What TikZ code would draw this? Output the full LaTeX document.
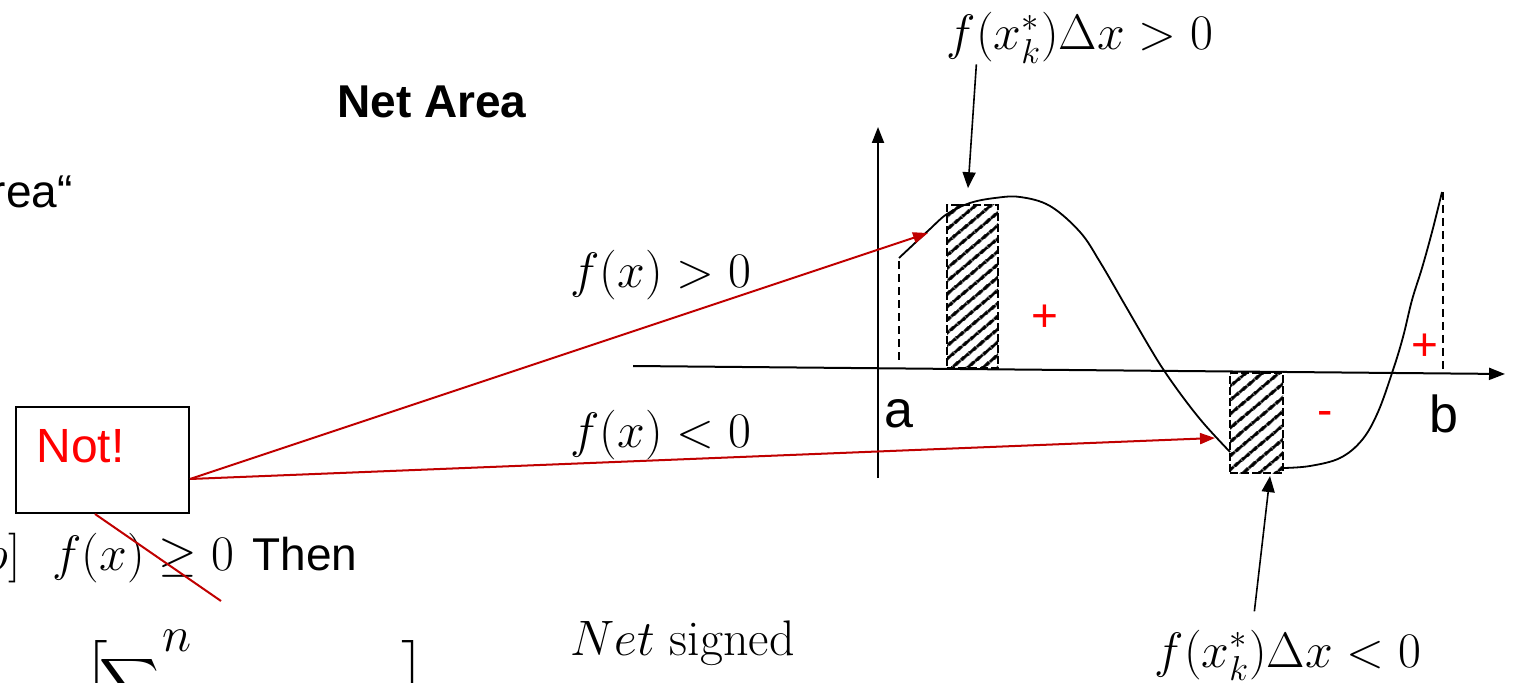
\documentclass[tikz,border=0pt]{standalone}
\usepackage{fontspec}
\usepackage{exscale}
\newfontfamily\sans{Liberation Sans}
\usetikzlibrary{arrows.meta,patterns.meta}
\definecolor{dred}{RGB}{192,0,0}
\definecolor{bred}{RGB}{255,0,0}
\begin{document}
\begin{tikzpicture}[x=0.5pt,y=-0.5pt,
  sanslab/.style={font=\sans\fontsize{23}{27}\selectfont, inner sep=0pt},
  mathlab/.style={font=\fontsize{25}{30}\selectfont, inner sep=0pt},
  redtxt/.style={sanslab, text=bred},
  blackarr/.style={line width=0.8pt, -{Triangle[length=8pt,width=6.5pt]}},
  redarr/.style={draw=dred, line width=1pt, -{Triangle[length=7.5pt,width=5.5pt]}},
  redln/.style={draw=dred, line width=1pt},
  axis/.style={line width=1pt, -{Triangle[length=8pt,width=6pt]}},
  curve/.style={line width=0.9pt},
  dashln/.style={line width=0.9pt, dash pattern=on 4pt off 2.5pt},
  hatchbox/.style={draw, line width=1.1pt, dash pattern=on 4pt off 1.5pt,
    pattern={Lines[angle=40,distance=5.4pt,line width=1.8pt]}, inner sep=0pt}
]
\useasboundingbox (0,0) rectangle (1513,683);
\clip (0,0) rectangle (1513,683);

% texts on the left
\node[sanslab, font=\sans\bfseries\fontsize{23}{27}\selectfont, anchor=base west] (title) at (337,118) {Net Area};
\node[sanslab, anchor=base east] (rea) at (73,208) {rea“};
\node[draw, line width=1pt, minimum width=86.5pt, minimum height=53pt, inner sep=0pt] (notbox) at (102.5,460) {};
\node[redtxt, font=\sans\fontsize{24}{28}\selectfont, anchor=base west] (nottxt) at (36,462) {Not!};
\node[mathlab, anchor=base east] (ab) at (21,570) {$[a,b]$};
\node[mathlab, anchor=base west] (cond) at (52,570) {$f(x)\geq 0$};
\node[sanslab, anchor=base west] (then) at (252,570) {Then};
\node[mathlab, anchor=base west] (eq) at (-22,704) {$=$};
\node[mathlab, anchor=north west] (lbr) at (84,640) {$\Big[$};
\node[font=\fontsize{21}{25}\selectfont, inner sep=0pt, anchor=north west] (sig) at (99,655) {$\displaystyle\sum$};
\node[mathlab, anchor=base west] (supn) at (162,651) {$n$};
\node[mathlab, anchor=north west] (rbr) at (401,640) {$\Big]$};
\node[mathlab, anchor=base west] (netsig) at (570,655) {$Net$ signed};

% labels for the red arrows
\node[mathlab, anchor=base west] (gt) at (570,288) {$f(x)>0$};
\node[mathlab, anchor=base west] (lt) at (570,448) {$f(x)<0$};

% axes
\coordinate (xo) at (633,366);
\coordinate (xe) at (1505,374);
\coordinate (yo) at (878,478);
\coordinate (ye) at (878,127);
\draw[axis] (xo) -- (xe);
\draw[axis] (yo) -- (ye);
\node[sanslab, font=\sans\fontsize{26}{30}\selectfont, anchor=base west] (la) at (884,428) {a};
\node[sanslab, font=\sans\fontsize{26}{30}\selectfont, anchor=base west] (lb) at (1429,432) {b};

% hatched rectangles
\node[hatchbox, minimum width=25.5pt, minimum height=81.5pt] (r1) at (972.5,286.5) {};
\node[hatchbox, minimum width=26.5pt, minimum height=50pt] (r2) at (1256.5,423) {};

% curve
\draw[dashln] (899,360) -- (899,258);
\draw[curve] (899,258) -- (915,243)
  plot[smooth, tension=0.6] coordinates {(915,243) (930,229) (947,214) (970,203) (995,198) (1020,197) (1050,206) (1080,232) (1100,262) (1125,305) (1150,348) (1165,372) (1185,400) (1205,425) (1230,452)};
\draw[curve] plot[smooth, tension=0.6] coordinates {(1284,468) (1310,466) (1340,458) (1362,440) (1378,412) (1393,370) (1403,337) (1412,300) (1422,268) (1432,232) (1442,192)};
\draw[dashln] (1443,192) -- (1443,372);

% signs
\node[redtxt] (p1) at (1045,318) {+};
\node[redtxt] (m1) at (1325,418) {-};
\node[redtxt] (p2) at (1425,347) {+};

% f(x_k^*) labels and arrows
\node[mathlab, anchor=base] (toplab) at (1080,50) {$f(x_k^*)\Delta x>0$};
\node[mathlab, anchor=base] (botlab) at (1288,667) {$f(x_k^*)\Delta x<0$};
\draw[blackarr] ([xshift=15pt]toplab.south west) -- ([xshift=-2.25pt,yshift=7.5pt]r1.north);
\draw[blackarr] ([xshift=50pt,yshift=9pt]botlab.north west) -- ([xshift=6.75pt,yshift=-1pt]r2.south);

% red connectors
\coordinate (tip1) at (928,233);
\coordinate (tip2) at (1215,438);
\coordinate (crossend) at (221,601);
\draw[redarr] ([yshift=-9.5pt]notbox.east) -- (tip1);
\draw[redarr] ([yshift=-9.5pt]notbox.east) -- (tip2);
\draw[redln] ([xshift=-3.75pt]notbox.south) -- (crossend);
\end{tikzpicture}
\end{document}
